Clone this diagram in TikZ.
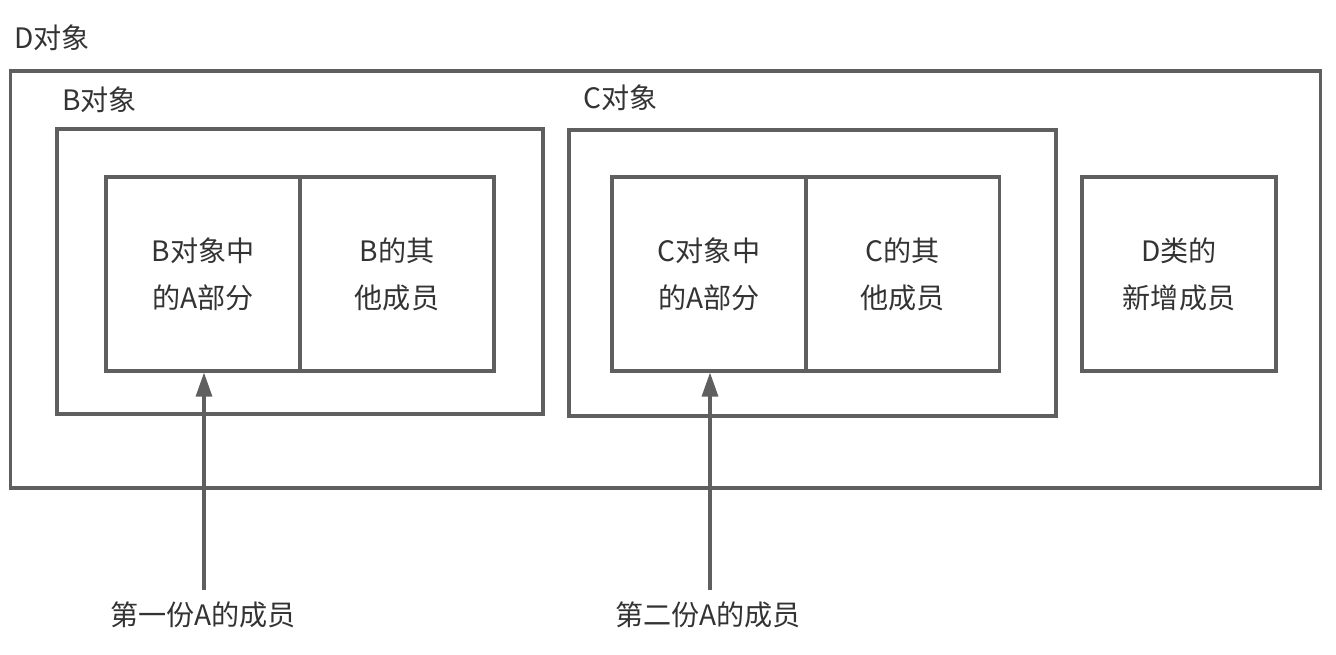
\documentclass[tikz,border=0pt]{standalone}
\usepackage{fontspec}
\setmainfont{Noto Sans CJK SC}
\usetikzlibrary{arrows.meta}

\definecolor{linegray}{HTML}{5F5F5F}
\definecolor{textgray}{HTML}{333333}

\begin{document}
\begin{tikzpicture}[
    x=0.02cm, y=-0.02cm,
    font=\fontsize{16}{26.7}\selectfont,
    text=textgray,
    frame/.style={
        draw=linegray, line width=1.8pt,
        inner sep=0pt
    },
    part/.style={
        frame, minimum width=3.88cm, minimum height=3.88cm,
        align=center
    },
    title/.style={anchor=west, inner sep=0pt},
    member_arrow/.style={
        -{Triangle[length=0.48cm, width=0.32cm]},
        draw=linegray, line width=1.8pt
    }
]
\useasboundingbox (0,0) rectangle (1336,655);

%% outer objects
\node[frame, minimum width=26.22cm, minimum height=8.34cm] (dobj) at (665.5,279.5) {};
\node[title] (dlabel) at (14,38) {D对象};

\node[frame, minimum width=9.72cm, minimum height=5.70cm] (bobj) at (300,271.5) {};
\node[title] (blabel) at (62,100) {B对象};

\node[frame, minimum width=9.74cm, minimum height=5.72cm] (cobj) at (812.5,273) {};
\node[title] (clabel) at (583,98) {C对象};

%% inner parts
\node[part] (bA) at (203,274) {B对象中\\的A部分};
\node[part] (bO) at (397,274) {B的其\\他成员};
\node[part] (cA) at (709,274) {C对象中\\的A部分};
\node[part] (cO) at (902.5,274) {C的其\\他成员};
\node[part] (dN) at (1179,274) {D类的\\新增成员};

%% copies of A
\node (firstA) at (203,615) {第一份A的成员};
\node (secondA) at (708,615) {第二份A的成员};

\draw[member_arrow, shorten <=0.12cm] (firstA.north -| bA.south) ++(1,0) -- ([xshift=0.02cm]bA.south);
\draw[member_arrow, shorten <=0.12cm] (secondA.north -| cA.south) ++(1,0) -- ([xshift=0.02cm]cA.south);
\end{tikzpicture}
\end{document}
